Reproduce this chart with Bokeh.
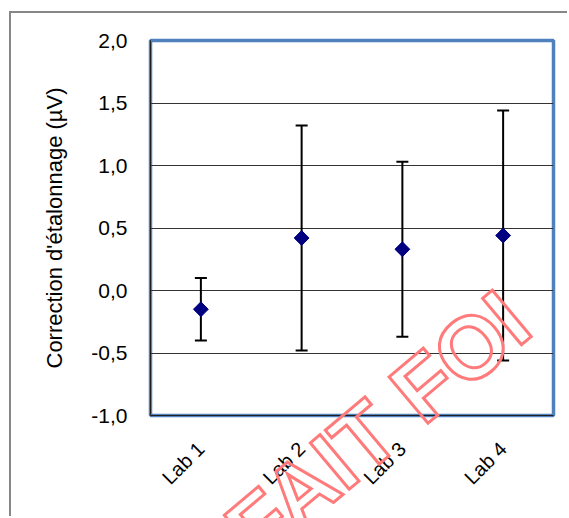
from math import pi
from bokeh.plotting import figure
from bokeh.models import (ColumnDataSource, FactorRange, Range1d, FixedTicker,
                          Whisker, TeeHead, Div)
from bokeh.embed import file_html
from bokeh.resources import INLINE

# ---- data ----
labs = ["Lab 1", "Lab 2", "Lab 3", "Lab 4"]
corrections = [-0.15, 0.42, 0.33, 0.44]
uncertainties = [0.25, 0.90, 0.70, 1.00]
y_ticks = [-1.0, -0.5, 0.0, 0.5, 1.0, 1.5, 2.0]
y_tick_labels = ["-1,0", "-0,5", "0,0", "0,5", "1,0", "1,5", "2,0"]
y_title = "Correction d'étalonnage (µV)"
watermark = "FAIT FOI"

upper = [c + u for c, u in zip(corrections, uncertainties)]
lower = [c - u for c, u in zip(corrections, uncertainties)]
src = ColumnDataSource(dict(lab=labs, corr=corrections, upper=upper, lower=lower))

FONT = "Liberation Sans"

p = figure(x_range=FactorRange(*labs, range_padding=0), y_range=Range1d(-1.0, 2.0),
           width=558, height=505, output_backend="svg", toolbar_location=None,
           min_border_left=139, min_border_right=16, min_border_top=27, min_border_bottom=103,
           styles={"border-left": "2px solid #878787", "border-top": "2px solid #878787",
                   "margin-left": "9px", "margin-top": "11px"})

p.outline_line_color = "#4F81BD"
p.outline_line_width = 3.5

# grid
p.xgrid.grid_line_color = None
p.ygrid.ticker = FixedTicker(ticks=y_ticks)
p.ygrid.grid_line_color = "#333333"
p.ygrid.grid_line_width = 1

# y axis
ya = p.yaxis[0]
ya.ticker = FixedTicker(ticks=y_ticks)
ya.major_label_overrides = {t: l for t, l in zip(y_ticks, y_tick_labels)}
ya.major_tick_line_color = None
ya.minor_tick_line_color = None
ya.axis_line_color = "#202020"
ya.major_label_text_font = FONT
ya.major_label_text_font_size = "21px"
ya.major_label_text_color = "black"
ya.major_label_standoff = 17
ya.axis_label = y_title
ya.axis_label_text_font = FONT
ya.axis_label_text_font_size = "22px"
ya.axis_label_text_font_style = "normal"
ya.axis_label_text_color = "black"
ya.axis_label_standoff = 21

# x axis
xa = p.xaxis[0]
xa.major_tick_line_color = None
xa.minor_tick_line_color = None
xa.axis_line_color = "#202020"
xa.major_label_orientation = pi / 4
xa.major_label_text_font = FONT
xa.major_label_text_font_size = "20px"
xa.major_label_text_color = "black"
xa.major_label_standoff = 24

# error bars
w = Whisker(base="lab", upper="upper", lower="lower", source=src,
            line_color="black", line_width=2,
            upper_head=TeeHead(size=12, line_color="black", line_width=2),
            lower_head=TeeHead(size=12, line_color="black", line_width=2))
p.add_layout(w)

p.scatter("lab", "corr", source=src, marker="square", size=10.5, angle=pi / 4,
          fill_color="#000080", line_color="#000080")

# watermark (outlined stamp text over the chart)
wm = Div(text=watermark, styles={
    "position": "absolute", "left": "367px", "top": "413px",
    "transform": "translate(-50%, -50%) rotate(-40deg)",
    "font-family": FONT, "font-size": "88px", "font-weight": "bold",
    "line-height": "1", "white-space": "nowrap",
    "color": "transparent", "-webkit-text-stroke": "3px #ff7b7b",
    "pointer-events": "none", "z-index": "10"})
p.elements = [wm]

open("out.html", "w").write(file_html(p, INLINE))
